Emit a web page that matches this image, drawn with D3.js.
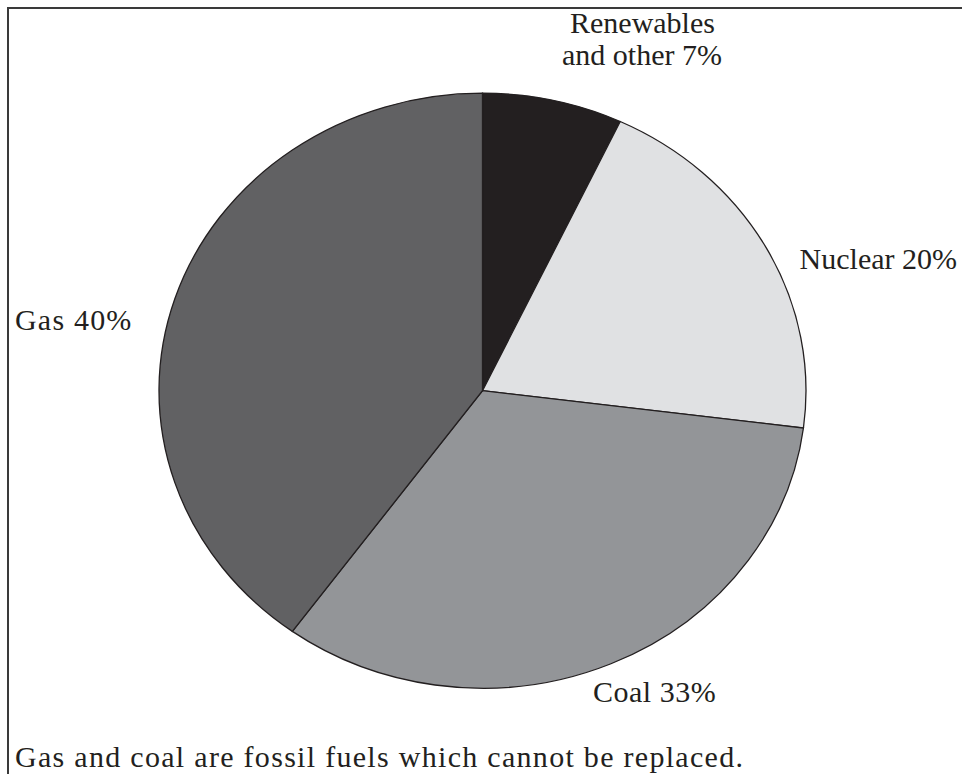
<!DOCTYPE html>
<html>
<head>
<meta charset="utf-8">
<script src="https://cdn.jsdelivr.net/npm/d3@7/dist/d3.min.js"></script>
<style>
  html, body { margin: 0; padding: 0; background: #fff; }
  svg { display: block; }
</style>
</head>
<body>
<svg id="chart" width="962" height="774"></svg>
<script>
const categories = ["Renewables and other", "Nuclear", "Coal", "Gas"];
const values = [7, 20, 33, 40];
const colors = ["#231f20", "#e0e1e3", "#939598", "#616163"];
const caption = "Gas and coal are fossil fuels which cannot be replaced.";

const FONT = "'Liberation Serif', 'Times New Roman', Times, 'DejaVu Serif', serif";

const svg = d3.select("#chart");
const W = 962, H = 774;

// frame (top and left edges)
svg.append("path")
  .attr("d", `M8,${H} L8,8 L${W},8`)
  .attr("fill", "none")
  .attr("stroke", "#3a3a3a")
  .attr("stroke-width", 2);

const cx = 482.5, cy = 390.7, rx = 323.5, ry = 297.5;

const pie = d3.pie().sort(null).value(d => d.value);
const data = categories.map((c, i) => ({ name: c, value: values[i], color: colors[i] }));
const arcs = pie(data);
const arc = d3.arc().innerRadius(0).outerRadius(ry);

const g = svg.append("g")
  .attr("transform", `translate(${cx},${cy}) scale(${rx / ry},1)`);

g.selectAll("path.slice")
  .data(arcs)
  .enter().append("path")
  .attr("class", "slice")
  .attr("d", arc)
  .attr("fill", d => d.data.color)
  .attr("stroke", "#231f20")
  .attr("stroke-width", 1.3)
  .attr("vector-effect", "non-scaling-stroke");

const fs = 30;
const labels = [
  { lines: ["Renewables", "and other " + values[0] + "%"], x: [570, 562], y: [33, 65], anchor: "start", ls: 0 },
  { lines: ["Nuclear " + values[1] + "%"], x: [957], y: [269], anchor: "end", ls: 0 },
  { lines: ["Coal " + values[2] + "%"], x: [593], y: [702], anchor: "start", ls: 0.5 },
  { lines: ["Gas " + values[3] + "%"], x: [15], y: [330], anchor: "start", ls: 1.2 }
];
labels.forEach(l => {
  l.lines.forEach((t, i) => {
    svg.append("text")
      .attr("x", l.x[i]).attr("y", l.y[i])
      .attr("text-anchor", l.anchor)
      .attr("font-family", FONT)
      .attr("font-size", fs)
      .attr("letter-spacing", l.ls)
      .attr("fill", "#231f20")
      .text(t);
  });
});

svg.append("text")
  .attr("x", 15).attr("y", 767)
  .attr("font-family", FONT)
  .attr("font-size", fs)
  .attr("textLength", 728)
  .attr("lengthAdjust", "spacing")
  .attr("fill", "#231f20")
  .text(caption);
</script>
</body>
</html>
